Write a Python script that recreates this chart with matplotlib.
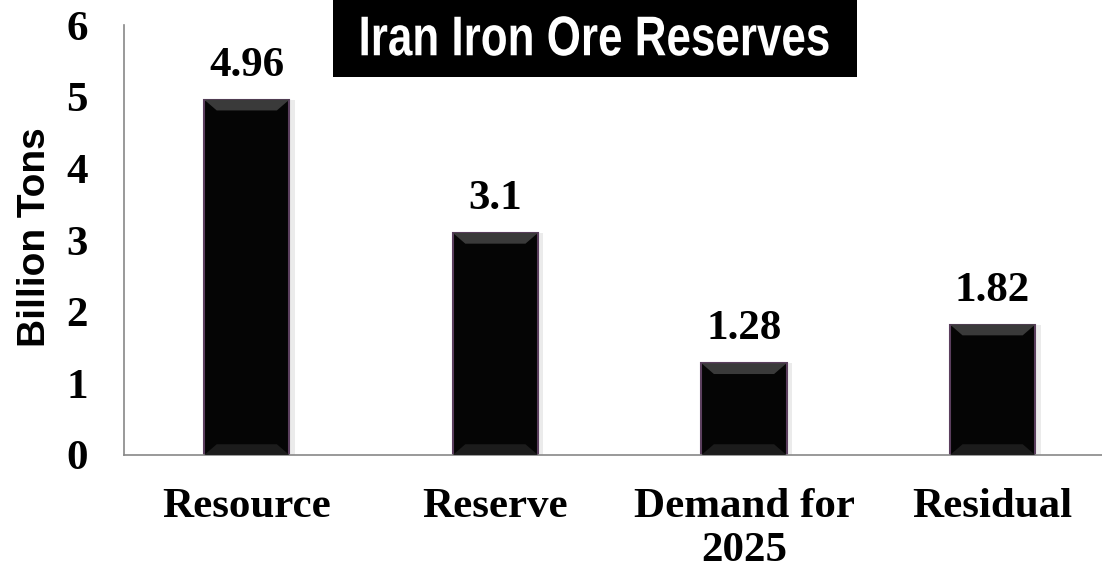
import matplotlib
matplotlib.use("Agg")
import matplotlib.pyplot as plt
from matplotlib.patches import Rectangle, Polygon, PathPatch
from matplotlib.textpath import TextPath
from matplotlib.font_manager import FontProperties
from matplotlib.transforms import Affine2D, IdentityTransform
import numpy as np

# data
categories = ["Resource", "Reserve", "Demand for\n2025", "Residual"]
values = [4.96, 3.1, 1.28, 1.82]
value_labels = ["4.96", "3.1", "1.28", "1.82"]
yticks = [0, 1, 2, 3, 4, 5, 6]
title = "Iran Iron Ore Reserves"

serif = ["Liberation Serif", "DejaVu Serif"]
sans = ["Liberation Sans", "DejaVu Sans"]

fig = plt.figure(figsize=(11.02, 5.70), dpi=100)
ax = fig.add_axes([0.1125, 0.2018, 0.8875, 0.754])

x = np.arange(len(categories))
w = 0.342

# soft shadow
ax.bar(x + 0.012, values, width=w + 0.02, color="#d8d8d8", alpha=0.5, zorder=1)
ax.bar(x, values, width=w, color="#050505", edgecolor="#5b3f5e",
       linewidth=1.5, zorder=2)

# bevel highlights
bx, by = 0.05, 0.15
for xi, v, lab in zip(x, values, value_labels):
    l, r = xi - w / 2, xi + w / 2
    top = Polygon([[l, v], [r, v], [r - bx, v - by], [l + bx, v - by]],
                  closed=True, facecolor="#3a3a3a", edgecolor="none", zorder=3)
    bot = Polygon([[l, 0], [r, 0], [r - bx, by], [l + bx, by]],
                  closed=True, facecolor="#1c1c1c", edgecolor="none", zorder=3)
    ax.add_patch(top)
    ax.add_patch(bot)
    ax.text(xi, v + 0.21, lab, ha="center", va="bottom",
            fontsize=31, fontweight="bold", family=serif)

ax.set_xlim(-0.494, 3.44)
ax.set_ylim(0, 6)
ax.set_yticks(yticks)
ax.set_yticklabels([str(t) for t in yticks], fontsize=31, fontweight="bold", family=serif)
ax.set_xticks(x)
ax.set_xticklabels(categories, fontsize=31, fontweight="bold", family=serif,
                   linespacing=1.2)
ax.tick_params(axis="y", length=0, pad=26)
ax.tick_params(axis="x", length=0, pad=24)

for s in ["top", "right"]:
    ax.spines[s].set_visible(False)
ax.spines["left"].set_color("#888888")
ax.spines["bottom"].set_color("#888888")
ax.spines["left"].set_linewidth(1.2)
ax.spines["bottom"].set_linewidth(1.2)

ax.set_ylabel("Billion Tons", fontsize=28, fontweight="bold", family=sans)
ax.yaxis.set_label_coords(-0.0726, 0.507)

# title box
fig.patches.append(Rectangle((333 / 1102, 1 - 77 / 570), 524 / 1102, 77 / 570,
                             transform=fig.transFigure, facecolor="black",
                             edgecolor="none", zorder=5))
# condensed title text (narrow sans look)
tp = TextPath((0, 0), title, size=56, prop=FontProperties(family="Liberation Sans", weight="bold"))
ext = tp.get_extents()
sx = 467 / ext.width
cx, cy = 595, 570 - 36
tr = Affine2D().translate(-(ext.x0 + ext.width / 2), -(ext.y0 + ext.height / 2)) \
    .scale(sx, 1.0).translate(cx, cy)
fig.patches.append(PathPatch(tr.transform_path(tp), transform=IdentityTransform(),
                             facecolor="white", edgecolor="none", zorder=6))

fig.savefig("out.png", dpi=100)
